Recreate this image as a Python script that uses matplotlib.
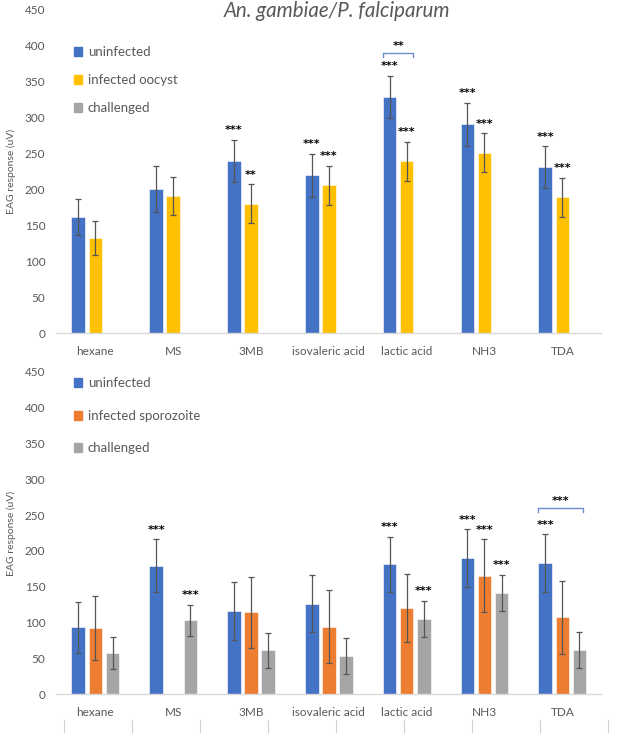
import numpy as np
import matplotlib.pyplot as plt
from matplotlib.patches import Patch
from matplotlib.lines import Line2D

plt.rcParams['font.family'] = ['Lato', 'DejaVu Sans']

odours = ['hexane', 'MS', '3MB', 'isovaleric acid', 'lactic acid', 'NH3', 'TDA']

# top panel: uninfected vs infected oocyst
top_uninf = [161, 200, 240, 220, 329, 291, 231]
top_uninf_err = [25, 32, 29, 30, 29, 30, 29]
top_oocyst = [132, 191, 180, 206, 239, 251, 189]
top_oocyst_err = [24, 27, 27, 27, 27, 27, 27]
top_stars_uninf = ['', '', '***', '***', '***', '***', '***']
top_stars_oocyst = ['', '', '**', '***', '***', '***', '***']

# bottom panel: uninfected vs infected sporozoite vs challenged
bot_uninf = [93, 179, 116, 126, 181, 190, 183]
bot_uninf_err = [35, 37, 40, 40, 39, 40, 40]
bot_sporo = [92, 0, 114, 94, 120, 165, 107]
bot_sporo_err = [45, 0, 50, 51, 48, 51, 51]
bot_chall = [57, 103, 61, 53, 105, 141, 62]
bot_chall_err = [22, 22, 24, 25, 25, 25, 25]
bot_stars_uninf = ['', '***', '', '', '***', '***', '***']
bot_stars_sporo = ['', '', '', '', '', '***', '']
bot_stars_chall = ['', '***', '', '', '***', '***', '']

BLUE = '#4472C4'
YELLOW = '#FFC000'
ORANGE = '#ED7D31'
GREY = '#A5A5A5'
TXT = '#595959'

x = np.arange(len(odours))
w = 0.175
off = 0.22

fig = plt.figure(figsize=(6.24, 7.33), dpi=100)
ax1 = fig.add_axes([0.0905, 0.5457, 0.873, 0.4407])
ax2 = fig.add_axes([0.0905, 0.0532, 0.873, 0.4393])


def draw_bars(ax, xs, vals, errs, color, stars):
    ax.bar(xs, vals, w, color=color, edgecolor='white', linewidth=0.4, zorder=2)
    for xi, v, e, s in zip(xs, vals, errs, stars):
        if v > 0:
            ax.errorbar(xi, v, yerr=e, fmt='none', ecolor='#555555',
                        elinewidth=0.9, capsize=2.5, capthick=0.9, zorder=3)
        if s:
            ax.annotate(s, (xi, v + e), xytext=(0, 7), textcoords='offset points',
                        ha='center', va='center', fontsize=8, fontweight='bold',
                        color='black', family='DejaVu Sans')


def style(ax, labels, handles, spacing, anchor):
    ax.set_xlim(-0.5, len(odours) - 0.5)
    ax.set_ylim(0, 450)
    ax.set_yticks(np.arange(0, 451, 50))
    ax.set_xticks(x)
    ax.set_xticklabels(odours)
    ax.tick_params(axis='both', length=0, labelsize=8.5, colors=TXT)
    ax.tick_params(axis='x', pad=9.5)
    ax.tick_params(axis='y', pad=8)
    for sp in ['top', 'right', 'left']:
        ax.spines[sp].set_visible(False)
    ax.spines['bottom'].set_color('#D9D9D9')
    ax.spines['bottom'].set_linewidth(1)
    ax.set_ylabel('EAG response (uV)', fontsize=7.5, color=TXT, labelpad=6)
    ax.legend(handles, labels, loc='upper left', bbox_to_anchor=(0.01, anchor),
              frameon=False, fontsize=9.5, handlelength=0.65, handleheight=0.65,
              handletextpad=0.4, labelspacing=spacing, labelcolor=TXT)


def bracket(ax, x0, x1, y, label):
    ax.plot([x0, x0, x1, x1], [y - 5, y, y, y - 5], color='#6C8ED0', lw=1, zorder=3)
    ax.text((x0 + x1) / 2, y + 10, label, ha='center', va='center', fontsize=8,
            fontweight='bold', family='DejaVu Sans')


# top panel
draw_bars(ax1, x - off, top_uninf, top_uninf_err, BLUE, top_stars_uninf)
draw_bars(ax1, x, top_oocyst, top_oocyst_err, YELLOW, top_stars_oocyst)
style(ax1, ['uninfected', 'infected oocyst', 'challenged'],
      [Patch(color=BLUE), Patch(color=YELLOW), Patch(color=GREY)], 1.2, 0.925)
bracket(ax1, 4 - off - w / 2, 4 + w / 2, 390, '**')
fig.text(337 / 624, 1 - 11 / 733, 'An. gambiae/P. falciparum', ha='center', va='center',
         fontsize=14.8, style='italic', color=TXT)

# bottom panel
draw_bars(ax2, x - off, bot_uninf, bot_uninf_err, BLUE, bot_stars_uninf)
draw_bars(ax2, x, bot_sporo, bot_sporo_err, ORANGE, bot_stars_sporo)
draw_bars(ax2, x + off, bot_chall, bot_chall_err, GREY, bot_stars_chall)
style(ax2, ['uninfected', 'infected sporozoite', 'challenged'],
      [Patch(color=BLUE), Patch(color=ORANGE), Patch(color=GREY)], 1.55, 1.02)
bracket(ax2, 6 - off - w / 2, 6 + off + 0.05, 260, '***')

# cut-off tick marks of the next panel at the very bottom
for px in np.linspace(64, 608, 9):
    fig.add_artist(Line2D([px / 624, px / 624], [0, 13 / 733], color='#D0D0D0', lw=0.8))

fig.savefig('out.png', dpi=100)
